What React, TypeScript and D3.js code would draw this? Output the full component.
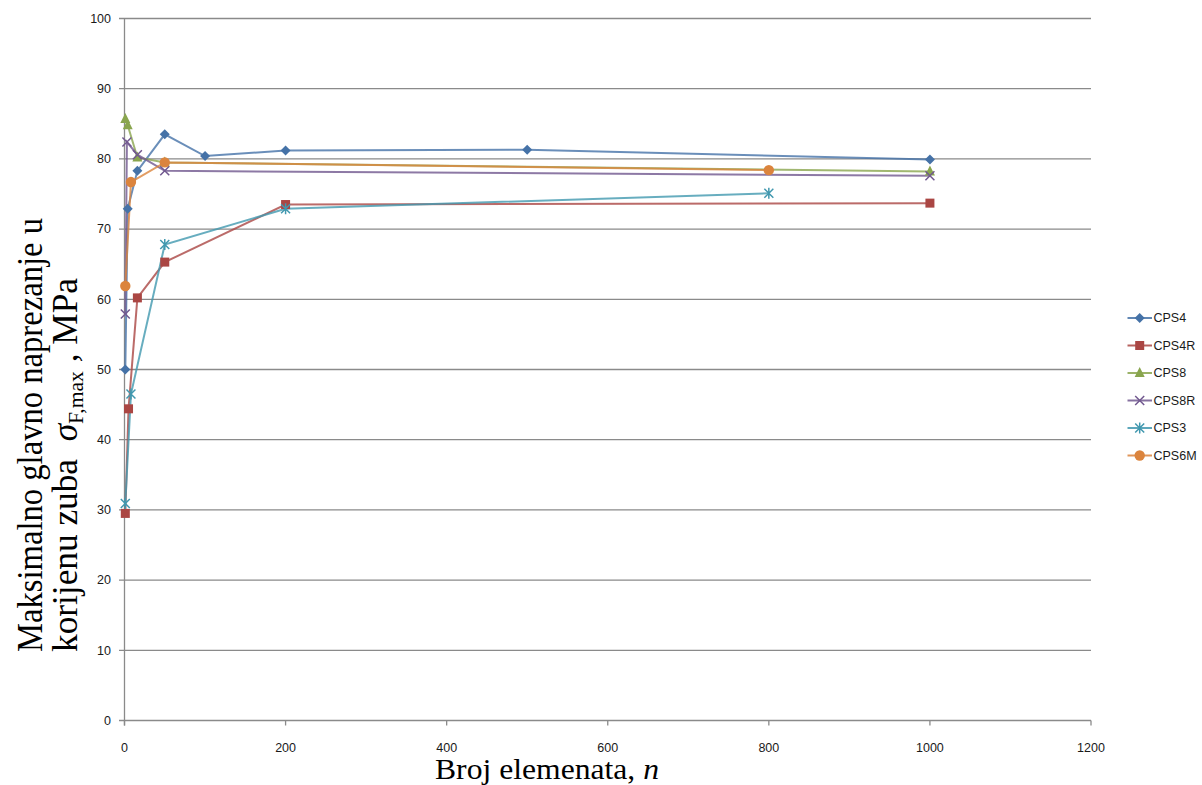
import React from "react";
import * as d3 from "d3";

const W = 1202;
const H = 785;

const yTicks = [0, 10, 20, 30, 40, 50, 60, 70, 80, 90, 100];
const xTicks = [0, 200, 400, 600, 800, 1000, 1200];

const seriesNames = ["CPS4", "CPS4R", "CPS8", "CPS8R", "CPS3", "CPS6M"];
const seriesColors = ["#4572A7", "#AA4643", "#89A54E", "#71588F", "#4198AF", "#DB843D"];
const seriesMarkers = ["diamond", "square", "triangle", "x", "star", "circle"];

const cps4N = [1, 4, 16, 50, 100, 200, 500, 1000];
const cps4V = [50.0, 72.9, 78.3, 83.5, 80.4, 81.2, 81.3, 79.9];

const cps4rN = [1, 5, 16, 50, 200, 1000];
const cps4rV = [29.5, 44.4, 60.2, 65.3, 73.5, 73.7];

const cps8N = [1, 4, 16, 50, 1000];
const cps8V = [85.7, 84.8, 80.2, 79.5, 78.2];

const cps8rN = [1, 3, 16, 50, 1000];
const cps8rV = [57.9, 82.4, 80.6, 78.3, 77.6];

const cps3N = [1, 8, 50, 200, 800];
const cps3V = [30.9, 46.5, 67.8, 72.9, 75.1];

const cps6mN = [1, 8, 50, 800];
const cps6mV = [61.9, 76.7, 79.5, 78.4];

const seriesN = [cps4N, cps4rN, cps8N, cps8rN, cps3N, cps6mN];
const seriesV = [cps4V, cps4rV, cps8V, cps8rV, cps3V, cps6mV];

const x = d3.scaleLinear().domain([0, 1200]).range([124.5, 1091]);
const y = d3.scaleLinear().domain([0, 100]).range([720.5, 18.5]);

function Marker({ kind, cx, cy, color }: { kind: string; cx: number; cy: number; color: string }) {
  if (kind === "diamond") {
    const r = 5;
    return <path d={`M${cx},${cy - r}L${cx + r},${cy}L${cx},${cy + r}L${cx - r},${cy}Z`} fill={color} />;
  }
  if (kind === "square") {
    const r = 4.5;
    return <rect x={cx - r} y={cy - r} width={2 * r} height={2 * r} fill={color} />;
  }
  if (kind === "triangle") {
    const r = 5;
    return <path d={`M${cx},${cy - r - 1}L${cx + r},${cy + r - 1}L${cx - r},${cy + r - 1}Z`} fill={color} />;
  }
  if (kind === "x") {
    const r = 4.5;
    return (
      <path
        d={`M${cx - r},${cy - r}L${cx + r},${cy + r}M${cx - r},${cy + r}L${cx + r},${cy - r}`}
        stroke={color}
        strokeWidth={1.5}
      />
    );
  }
  if (kind === "star") {
    const r = 4.5;
    return (
      <path
        d={`M${cx - r},${cy - r}L${cx + r},${cy + r}M${cx - r},${cy + r}L${cx + r},${cy - r}M${cx},${cy - r - 1}L${cx},${cy + r + 1}`}
        stroke={color}
        strokeWidth={1.5}
      />
    );
  }
  return <circle cx={cx} cy={cy} r={5.2} fill={color} />;
}

export default function App() {
  const line = d3
    .line<[number, number]>()
    .x((d) => x(d[0]))
    .y((d) => y(d[1]));

  const tickFont = "'Liberation Sans', Arial, sans-serif";
  const serif = "'Liberation Serif', 'Times New Roman', serif";

  return (
    <svg
      width={W}
      height={H}
      style={{ position: "absolute", left: 0, top: 0, background: "#fff" }}
    >
      <rect x={0} y={0} width={W} height={H} fill="#fff" />
      {/* gridlines */}
      {yTicks.map((t) => (
        <line
          key={"g" + t}
          x1={x(0) - 5.5}
          x2={x(1200)}
          y1={y(t)}
          y2={y(t)}
          stroke="#8a8a8a"
          strokeWidth={1.3}
        />
      ))}
      {/* y axis */}
      <line x1={x(0)} x2={x(0)} y1={y(100)} y2={y(0) + 5} stroke="#8a8a8a" strokeWidth={1.3} />
      {/* x ticks */}
      {xTicks.map((t) => (
        <line key={"xt" + t} x1={x(t)} x2={x(t)} y1={y(0)} y2={y(0) + 5} stroke="#8a8a8a" strokeWidth={1.3} />
      ))}
      {yTicks.map((t) => (
        <text
          key={"yl" + t}
          x={111}
          y={y(t)}
          dy="0.35em"
          textAnchor="end"
          fontFamily={tickFont}
          fontSize={12.5}
          fill="#1a1a1a"
        >
          {t}
        </text>
      ))}
      {xTicks.map((t) => (
        <text
          key={"xl" + t}
          x={x(t)}
          y={748}
          dy="0.35em"
          textAnchor="middle"
          fontFamily={tickFont}
          fontSize={12.5}
          fill="#1a1a1a"
        >
          {t}
        </text>
      ))}

      {/* series lines */}
      {seriesNames.map((name, i) => {
        const pts: [number, number][] = seriesN[i].map((n, j) => [n, seriesV[i][j]]);
        return (
          <path
            key={"l" + name}
            d={line(pts) || ""}
            fill="none"
            stroke={seriesColors[i]}
            strokeWidth={2}
            strokeOpacity={0.8}
          />
        );
      })}
      {/* markers */}
      {seriesNames.map((name, i) => (
        <g key={"m" + name}>
          {seriesN[i].map((n, j) => (
            <Marker key={j} kind={seriesMarkers[i]} cx={x(n)} cy={y(seriesV[i][j])} color={seriesColors[i]} />
          ))}
        </g>
      ))}

      {/* legend */}
      {seriesNames.map((name, i) => {
        const ly = 318 + i * 27.5;
        return (
          <g key={"lg" + name}>
            <line x1={1127.5} x2={1152} y1={ly} y2={ly} stroke={seriesColors[i]} strokeWidth={2} strokeOpacity={0.85} />
            <Marker kind={seriesMarkers[i]} cx={1139.7} cy={ly} color={seriesColors[i]} />
            <text x={1153.5} y={ly} dy="0.35em" fontFamily={tickFont} fontSize={12.5} fill="#1a1a1a">
              {name}
            </text>
          </g>
        );
      })}

      {/* x title */}
      <text
        x={435}
        y={779}
        fontFamily={serif}
        fontSize={29}
        fill="#000"
        textLength={224}
        lengthAdjust="spacingAndGlyphs"
      >
        Broj elemenata, <tspan fontStyle="italic">n</tspan>
      </text>

      {/* y title */}
      <g transform="translate(42,652) rotate(-90)">
        <text
          x={0}
          y={0}
          fontFamily={serif}
          fontSize={36}
          fill="#000"
          textLength={434}
          lengthAdjust="spacingAndGlyphs"
        >
          Maksimalno glavno naprezanje u
        </text>
      </g>
      <g transform="translate(77,652) rotate(-90)">
        <text
          x={0}
          y={0}
          fontFamily={serif}
          fontSize={36}
          fill="#000"
          textLength={374}
          lengthAdjust="spacingAndGlyphs"
        >
          korijenu zuba{"\u00a0\u00a0"}
          <tspan fontStyle="italic">σ</tspan>
          <tspan fontSize={22} dy={6}>
            F,max
          </tspan>
          <tspan dy={-6}>{"\u00a0, MPa"}</tspan>
        </text>
      </g>
    </svg>
  );
}
